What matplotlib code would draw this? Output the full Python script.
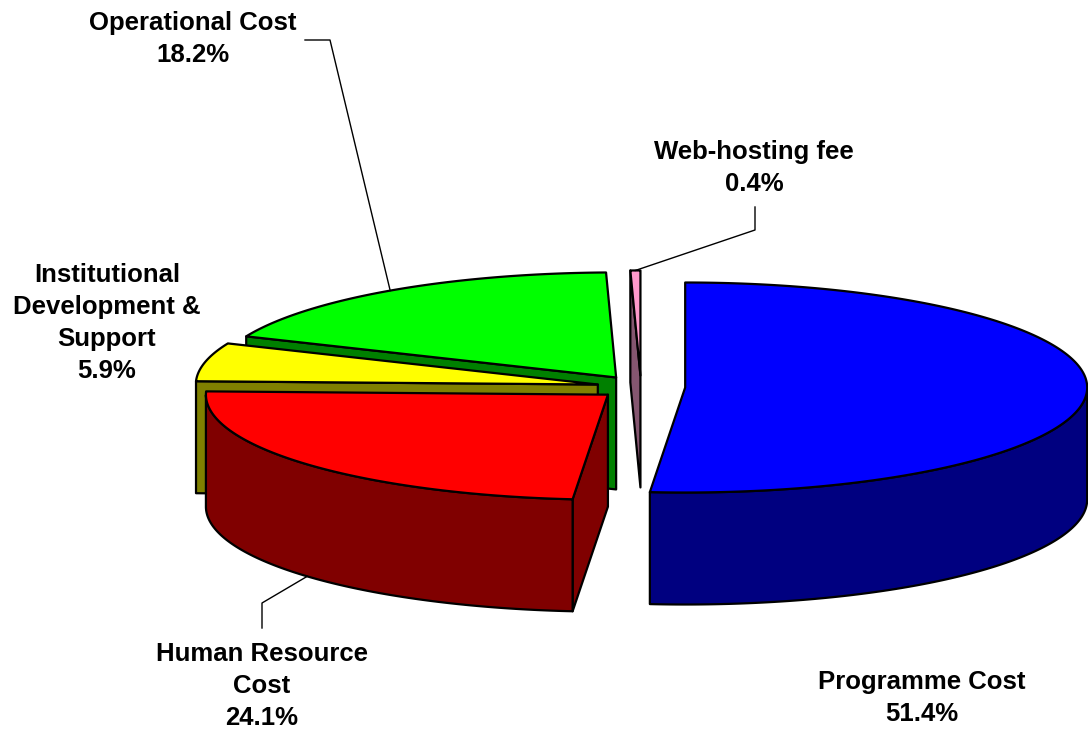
import numpy as np
import matplotlib
matplotlib.use('Agg')
import matplotlib.pyplot as plt
from matplotlib.patches import Polygon

# data
labels = ['Programme Cost', 'Human Resource\nCost',
          'Institutional\nDevelopment &\nSupport', 'Operational Cost',
          'Web-hosting fee']
values = [51.4, 24.1, 5.9, 18.2, 0.4]
top_colors = ['#0000ff', '#ff0000', '#ffff00', '#00ff00', '#ff99cc']
side_colors = ['#000080', '#800000', '#808000', '#008000', '#855670']

# label layout (pixel space): text centre, leader elbow points
label_pos = [(922, 698), (262, 686), (107, 323), (193, 39), (754, 168)]
leader_pts = [None, [(262, 628), (262, 603)], None,
              [(305, 40), (330, 40)], [(755, 207), (755, 230)]]

# pie geometry in pixels
cx0, cy0 = 641, 387
rx, ry = 402, 105
depth = 112
explode = 0.11

W, H = 1088, 729
fig = plt.figure(figsize=(W / 100, H / 100), dpi=100)
ax = fig.add_axes([0, 0, 1, 1])
ax.set_xlim(0, W)
ax.set_ylim(H, 0)
ax.axis('off')

def pt(cx, cy, t, r=1.0, z=0.0):
    return (cx + rx * r * np.cos(t), cy - ry * r * np.sin(t) + z)

total = sum(values)
cum = np.cumsum([0] + values) / total
slices = []
for i, v in enumerate(values):
    a2 = np.radians(90 - 360 * cum[i])
    a1 = np.radians(90 - 360 * cum[i + 1])
    mid = (a1 + a2) / 2
    cx = cx0 + rx * explode * np.cos(mid)
    cy = cy0 - ry * explode * np.sin(mid)
    slices.append((i, a1, a2, mid, cx, cy))

lw = 1.6
anchors = {}
for i, a1, a2, mid, cx, cy in sorted(slices, key=lambda s: -np.sin(s[3])):
    # radial side faces
    for a, vis in ((a2, np.cos(a2) < -1e-9), (a1, np.cos(a1) > 1e-9)):
        if vis:
            face = [pt(cx, cy, a, 0), pt(cx, cy, a), pt(cx, cy, a, 1, depth),
                    pt(cx, cy, a, 0, depth)]
            ax.add_patch(Polygon(face, closed=True, fc=side_colors[i],
                                 ec='black', lw=lw, joinstyle='round'))
    # outer curved wall (front half only)
    t = np.linspace(a1, a2, 400)
    mask = np.sin(t) <= 0
    if mask.any():
        idx = np.where(mask)[0]
        runs = np.split(idx, np.where(np.diff(idx) > 1)[0] + 1)
        for run in runs:
            tt = t[run]
            topr = [pt(cx, cy, a) for a in tt]
            botr = [pt(cx, cy, a, 1, depth) for a in tt[::-1]]
            ax.add_patch(Polygon(topr + botr, closed=True, fc=side_colors[i],
                                 ec='black', lw=lw, joinstyle='round'))
    # top face
    arc = [pt(cx, cy, a) for a in np.linspace(a1, a2, 400)]
    ax.add_patch(Polygon([pt(cx, cy, a1, 0)] + arc, closed=True,
                         fc=top_colors[i], ec='black', lw=lw,
                         joinstyle='round'))
    z = depth if np.sin(mid) < 0 else 0
    anchors[i] = pt(cx, cy, mid, 1, z)

# labels and leader lines
for i, lab in enumerate(labels):
    x, y = label_pos[i]
    ax.text(x, y, f'{lab}\n{values[i]:.1f}%', ha='center', va='center',
            fontsize=18.5, fontweight='bold', family='Liberation Sans',
            linespacing=1.42)
    if leader_pts[i] is not None:
        xs = [p[0] for p in leader_pts[i]] + [anchors[i][0]]
        ys = [p[1] for p in leader_pts[i]] + [anchors[i][1]]
        ax.plot(xs, ys, color='black', lw=1.0)

fig.savefig('out.png', dpi=100)
